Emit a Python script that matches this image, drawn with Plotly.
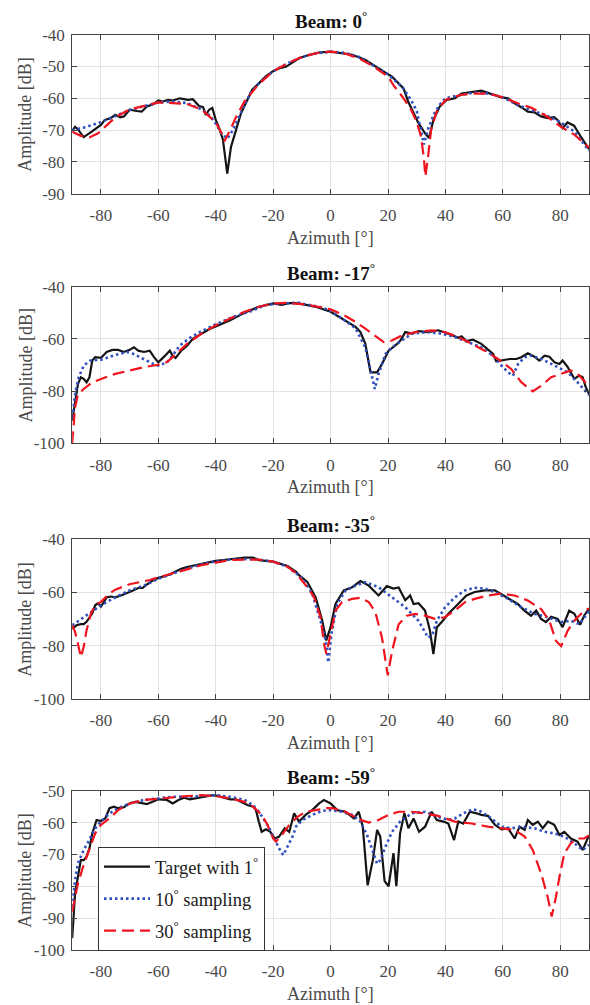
import plotly.graph_objects as go

# ---------------- data ----------------
x_tickvals = [-80, -60, -40, -20, 0, 20, 40, 60, 80]
x_ticktext = ["-80", "-60", "-40", "-20", "0", "20", "40", "60", "80"]

beam_titles = ["Beam: 0<sup>°</sup>", "Beam: -17<sup>°</sup>", "Beam: -35<sup>°</sup>", "Beam: -59<sup>°</sup>"]
series_names = ["Target with 1<sup>°</sup>", "10<sup>°</sup> sampling", "30<sup>°</sup> sampling"]

y_ranges = [[-90, -40], [-100, -40], [-100, -40], [-100, -50]]
y_tickvals = [[-90, -80, -70, -60, -50, -40], [-100, -80, -60, -40], [-100, -80, -60, -40], [-100, -90, -80, -70, -60, -50]]
y_ticktext = [["-90", "-80", "-70", "-60", "-50", "-40"], ["-100", "-80", "-60", "-40"],
              ["-100", "-80", "-60", "-40"], ["-100", "-90", "-80", "-70", "-60", "-50"]]

# Beam 0
b0_tgt_x = [-90, -89, -88, -86, -83.7, -81.4, -80, -78.6, -76.7, -75, -73.3, -72, -70, -67.5, -65.8, -64, -61.8, -60,
            -58.4, -56.6, -55, -52.5, -51, -49.6, -48, -46.7, -45.8, -44.4, -43.5, -42.3, -41.2, -40, -38.8, -37.5, -36,
            -34.7, -32.9, -31.2, -29.5, -27.3, -25, -22.5, -20.3, -18, -15.6, -13.3, -11, -8.7, -4, 0, 2.9, 7.5, 12,
            15.6, 19, 21.4, 23.7, 25.4, 27, 28.9, 30.6, 32.9, 34.3, 35.8, 38, 40.4, 43.3, 45.6, 49, 52.5, 54.8, 57.2,
            59.5, 61.8, 64.1, 66.4, 68.7, 71, 73.3, 75.6, 77.9, 79, 80.8, 82.5, 84.8, 87.1, 89.4, 90]
b0_tgt_y = [-70.2, -69, -69.8, -72.2, -70.8, -69.4, -68.4, -66.8, -66.3, -65.2, -66, -65.7, -63.6, -64, -64.2, -62.6,
            -61.9, -60.7, -61, -60.5, -60.7, -60, -60.3, -60.5, -60.3, -61.6, -62.4, -62.8, -65.2, -63.6, -63, -66.8,
            -69.4, -73, -83.7, -75.3, -70, -64.7, -61.5, -57.3, -55.3, -53, -51.6, -50.6, -50.1, -48.8, -47.4, -46.7,
            -45.6, -45.3, -45.6, -46.3, -47.9, -50.1, -51.9, -53.2, -55.5, -56.9, -61, -64.7, -67.8, -71, -72.5, -66.8,
            -62.6, -60.5, -60, -58.5, -58, -57.6, -58.3, -59, -59.7, -60, -61.6, -62.8, -64.2, -64.4, -65.7, -66.2,
            -65.9, -66.8, -69.4, -67.6, -68.6, -72, -75.1, -76]
b0_s10_x = [-90, -85, -80, -75, -70, -65, -60, -55, -50, -45, -42, -40, -38, -36, -34, -32, -30, -28, -25, -20, -15,
            -10, -5, 0, 5, 10, 15, 20, 25, 28, 30, 31.5, 32.5, 34, 36, 38, 40, 45, 50, 55, 60, 65, 70, 75, 80, 85, 90]
b0_s10_y = [-70, -69, -67.5, -65.5, -63.7, -62.5, -61.3, -61, -61.5, -63.5, -65.5, -68, -71, -72.7, -70, -66, -62,
            -58.5, -55.3, -51.5, -49, -47, -45.8, -45.4, -45.7, -47, -49.8, -52.5, -56.5, -60.5, -64, -70, -74.5,
            -69.5, -65, -62, -60, -59, -58.2, -58.5, -59.7, -62, -63.8, -65.3, -67.5, -70.5, -76.5]
b0_s30_x = [-90, -87, -84, -81, -78, -75, -70, -65, -60, -55, -50, -45, -40, -38, -37, -35, -33, -30, -25, -20, -15,
            -10, -5, 0, 5, 10, 15, 20, 22, 25, 28, 30, 31.5, 32.5, 33, 34, 35, 37, 40, 45, 50, 55, 60, 65, 70, 75, 80,
            85, 90]
b0_s30_y = [-70.5, -71.8, -72.3, -71, -68.5, -66, -63.5, -62.5, -61.3, -61.5, -61.8, -63.5, -67.5, -71, -73.5, -70,
            -66, -61, -55.5, -51.5, -49, -47, -45.8, -45.3, -45.9, -47.5, -50, -53.2, -56, -59.5, -63.5, -67.5, -72,
            -79, -84.6, -78, -70, -64, -60.5, -59, -58.5, -58.5, -59.7, -61.5, -63, -65.5, -68.8, -71.5, -75.5]

# Beam -17
b17_tgt_x = [-90, -89, -88, -87, -86, -85, -84, -83, -82, -80, -78, -76, -74, -72, -70, -68.5, -67, -65, -63, -61.5,
             -60, -58, -56, -55, -54, -52, -50, -48, -46, -44, -42, -40, -35, -30, -25, -20, -17, -15, -13, -9.8, -5.2,
             0, 4, 8.7, 10.4, 12.1, 13.9, 16.2, 17.9, 20.2, 22.5, 24.3, 26, 28.3, 30.6, 34, 37.5, 41, 44.5, 45.6, 47.3,
             49.6, 52.5, 54.8, 56.6, 57.7, 60, 62.4, 64.7, 66.4, 68.7, 71, 72.7, 74.5, 76.2, 78, 79.7, 80.8, 82.6, 84.9,
             86.6, 87.8, 88.9, 90]
b17_tgt_y = [-91.4, -83.7, -77.3, -74.7, -75.3, -76.6, -74.7, -68.3, -67, -67.3, -65, -64.2, -64.2, -65, -64.2, -63.2,
             -64.5, -65, -64.5, -67, -69, -66.8, -64.5, -66.5, -67.3, -64.5, -62.6, -60, -58.7, -57.4, -56.1, -55.2,
             -52.9, -50, -47.7, -46.4, -47, -46.4, -46.2, -46.7, -47.7, -49.6, -52.2, -55.4, -57.4, -61.9, -72.8, -72.8,
             -69.6, -64.5, -62.6, -60.6, -57.4, -58, -57, -57.4, -56.7, -58, -59.6, -59, -60.8, -60.3, -61.9, -63.9,
             -65.8, -68.6, -68.3, -67.7, -67.7, -67, -65.5, -66.8, -68.3, -66.4, -66.8, -69, -69.6, -68.3, -70.8,
             -75.3, -74, -74.7, -78.6, -81]
b17_s10_x = [-90, -88.8, -87.7, -86, -83.7, -80, -75.7, -71, -68.8, -65.2, -61.7, -60, -57, -54.8, -52.5, -49, -45.6,
             -40, -34, -28.3, -22.5, -16.8, -11, -2.9, 0, 4, 8.7, 12.1, 13.9, 15.4, 16.7, 19.1, 21.4, 24.8, 28.3, 34,
             38.7, 43.3, 47.9, 52.5, 57.2, 59.5, 61.8, 63.5, 65.3, 67.6, 69.9, 73.4, 78, 82.6, 86, 90]
b17_s10_y = [-90, -79.9, -74.7, -70.2, -68.3, -68, -66.4, -65, -65.7, -67.7, -69.6, -70.2, -69, -66, -62.5, -59.6,
             -57.4, -54.4, -51.6, -49.6, -47, -46.4, -46.2, -48, -49.3, -52.2, -56, -63.2, -72.2, -79.2, -73.4, -65.8,
             -63.2, -60.6, -58, -57.4, -58, -59.3, -61.2, -63.2, -67, -70.2, -72.8, -74.1, -69.6, -67, -66.4, -67.7,
             -70.2, -72.8, -76.6, -81.5]
b17_s30_x = [-90, -89.5, -89, -88, -86, -83, -80, -75, -70, -65, -60, -57, -55, -52, -50, -45, -40, -35, -30, -25,
             -20, -15, -8.7, -2.9, 0, 4.6, 8.7, 12.1, 15.6, 18.5, 21.4, 24.8, 29.4, 35.2, 39.8, 44.5, 49.1, 53.7, 58.3,
             62.9, 66.4, 70.4, 73.4, 76.8, 80.3, 83.7, 86, 88.3, 90]
b17_s30_y = [-100, -92.7, -86.3, -81.2, -79.2, -76.6, -75.3, -73.4, -72.1, -70.8, -69.9, -68.9, -67, -63.8, -61.9,
             -58, -54.8, -52.2, -49.6, -47.7, -46.4, -46.2, -46.8, -48, -48.7, -50.9, -53.5, -56.1, -58.7, -61.2,
             -60.6, -58.7, -57.4, -56.7, -57.4, -59.3, -61.9, -64.5, -67.7, -71.5, -76.6, -80.1, -77.9, -74.7, -73.4,
             -72.1, -73.4, -76, -79]

# Beam -35
b35_tgt_x = [-90, -88.5, -87, -86, -85, -83, -82, -81, -80, -78, -76.5, -75, -73, -71, -69, -67, -65.5, -64.5, -62,
             -60, -57, -55, -52, -50, -45, -40, -35, -30, -27, -25, -20, -15, -12, -11, -8.1, -5.2, -2.9, -1.5, 0, 1.7,
             4.6, 7.5, 10.4, 13.3, 16.7, 19.6, 21.9, 23.7, 26, 27.7, 28.9, 30.6, 32.9, 34.6, 35.8, 37, 38.7, 41, 43.3,
             45.6, 47.3, 50.2, 53.7, 57.2, 60, 62.9, 65.2, 67.5, 69.8, 71.6, 73.3, 75, 76.8, 79.1, 80.8, 83.1, 84.9,
             86.9, 88.3, 90]
b35_tgt_y = [-73.6, -72.3, -71.9, -71.9, -71, -67.8, -64.8, -64, -65.3, -61.8, -61.5, -61.8, -61.1, -60.3, -59.3,
             -58.3, -58.3, -57.4, -55.5, -54.5, -53.6, -52.7, -51.1, -50.4, -49.2, -48.1, -47.5, -46.9, -46.9, -47.8,
             -48.4, -50, -52.2, -53.5, -56, -61.8, -70.6, -78, -73, -64.3, -59.2, -58, -55.7, -57.4, -61.1, -57.6,
             -58.5, -58.1, -62.9, -61.1, -64.3, -64, -66.8, -74.3, -83.1, -73, -71.1, -68, -65.5, -63, -61.1, -59.8,
             -59.2, -59.2, -61.1, -63, -64.3, -66.8, -68.7, -66.8, -69.9, -71.1, -69.1, -69.9, -73, -66.8, -68,
             -72.1, -68.7, -66]
b35_s10_x = [-90, -85, -80, -75, -70, -65, -60, -55, -50, -45, -40, -35, -30, -25, -20, -15, -12, -9.8, -6.4, -3.5,
             -1.7, -0.8, 0.3, 2.3, 5.2, 8.7, 12.1, 16.7, 21.4, 26, 30.6, 34, 35.5, 37, 39.9, 43.3, 46.8, 50.2, 53.7,
             57.2, 61.8, 66.4, 71, 75.6, 80.3, 83.7, 86.6, 90]
b35_s10_y = [-72.3, -68.6, -64.8, -61.8, -59.2, -57.4, -54.8, -52.9, -51, -49.4, -48.3, -47.6, -47.4, -47.6, -48.4,
             -50.3, -52.8, -54.7, -60.4, -70.6, -78, -86.3, -75.5, -64.3, -59.2, -57.4, -56.1, -58, -61.8, -65.5,
             -70.6, -77, -75.7, -70.6, -65.5, -61.8, -59.2, -58.2, -58.5, -59.8, -62.4, -65.5, -68, -69.3, -71.1,
             -70.6, -71.9, -67]
b35_s30_x = [-90, -89, -88, -87, -86, -85, -83.5, -82, -80, -77, -75, -72, -70, -66, -63, -60, -55, -50, -45, -40,
             -35, -30, -25, -20, -15, -12, -8.7, -5.8, -3.5, -2.3, -1.5, 0, 1.7, 4, 7.5, 10.4, 13.3, 15.6, 17.9, 19.9,
             21.4, 23.7, 26.6, 29.4, 32.9, 36.3, 39.8, 43.3, 46.8, 50.2, 54.8, 59.5, 64.1, 68.7, 73.3, 76.2, 78.5,
             80.3, 82.6, 84.9, 88.3, 90]
b35_s30_y = [-72.3, -74.8, -79.2, -84.3, -80.5, -74.2, -67.9, -64.8, -63.5, -60.4, -58.9, -57.6, -56.9, -56, -55.3,
             -54.3, -52.9, -51.3, -49.7, -48.7, -47.8, -47.6, -47.6, -48.4, -50.3, -52.8, -57.2, -61.6, -69.3, -79.3,
             -83, -75.5, -66.8, -63.6, -62.4, -62, -63.6, -67.4, -77, -91.1, -82.1, -71.9, -68.7, -68, -68.7, -69.9,
             -69.3, -66.8, -63.6, -62.4, -61.1, -60.4, -61.1, -63, -66.2, -70.6, -78.2, -80.1, -74.3, -70.6, -66.8,
             -66]

# Beam -59
b59_tgt_x = [-90, -89.5, -89, -88, -87, -86, -85, -84, -83, -81.5, -80, -78.5, -77, -75.5, -74, -72, -70, -68, -66,
             -64, -62, -60, -57, -55, -53, -51, -49, -47, -45, -43, -41, -39, -37, -35, -33, -31, -29, -27, -26, -25,
             -24, -22.5, -21, -19.5, -18, -16, -14.4, -12.7, -11, -8.7, -6.4, -4, -2.3, 0, 2.3, 5.2, 8.1, 9.8, 11.2,
             12.9, 14.7, 16.2, 17.3, 18.8, 20.2, 21.9, 22.9, 24.2, 25.7, 27.1, 28.9, 30.8, 32.9, 35.2, 37, 39.3, 41,
             43, 44.5, 46.2, 48.5, 50.8, 52.5, 54.8, 57.2, 59.5, 61.8, 64.1, 65.8, 67.6, 68.7, 70.4, 72.2, 73.9, 75.7,
             77.9, 79.7, 81.4, 83.7, 86, 87.8, 90]
b59_tgt_y = [-96.3, -89.5, -82.2, -77, -71.8, -71.8, -70.7, -68.1, -63.4, -59.2, -59.5, -58.7, -55.5, -55, -55.5,
             -55.2, -54, -53.5, -53.8, -54.2, -53.5, -52.7, -52.9, -54, -52.9, -52.2, -52.7, -52.4, -52.1, -51.9,
             -51.4, -51.7, -52.2, -52.7, -52.7, -53.5, -54.5, -55, -56.1, -59.7, -62.9, -62.1, -62.9, -65, -64.5,
             -61.8, -62.9, -57.1, -59.7, -57.6, -56.1, -54, -52.9, -54, -56.1, -56.6, -58.7, -56.6, -61.3, -79.7,
             -71.8, -62.3, -64.4, -78.4, -80, -69.6, -80, -63.4, -57.1, -61.8, -58.7, -62.9, -61.3, -56.6, -59.2,
             -59.7, -60.3, -65.5, -59.7, -60.3, -56.6, -57.1, -57.6, -57.9, -60.7, -62.1, -61.8, -65, -61.3, -62.3,
             -59.2, -60.7, -59.7, -61.8, -59.7, -60.7, -63.9, -62.9, -65, -66, -68.6, -64]
b59_s10_x = [-90, -89, -88, -86, -84, -82, -80, -77, -74, -70, -65, -60, -55, -50, -45, -40, -35, -30, -27, -25, -22,
             -20, -18, -16.5, -15, -13, -12.1, -9.8, -6.4, -2.9, 0, 4, 7.5, 10.4, 12.7, 15, 16.2, 17.3, 19.1, 21.4,
             24.2, 28.3, 32.9, 37.5, 41, 43.3, 46.2, 49.6, 52.5, 56, 59.5, 63, 66.4, 71, 74.5, 77.9, 81.4, 84.9, 87.8,
             90]
b59_s10_y = [-86.4, -78, -72.8, -68.6, -65.4, -61.8, -59.7, -57.1, -55.5, -54, -52.9, -52.4, -51.9, -51.9, -51.7,
             -51.4, -51.9, -52.9, -54.5, -56.6, -60.7, -64.4, -68, -70.2, -67.6, -63.9, -61.3, -59.2, -57.6, -56.3,
             -56.1, -56.6, -57.6, -59.7, -63.9, -69.7, -72.9, -71.8, -67.6, -62.9, -59.7, -57.1, -56.6, -58.2, -59.2,
             -58.7, -57.1, -55.8, -56.6, -58.7, -61.3, -61.8, -61.3, -61.8, -62.9, -63.4, -64.4, -66.5, -68.6, -67]
b59_s30_x = [-90, -89, -88, -86, -84, -82, -80, -77, -74, -70, -65, -60, -55, -50, -45, -40, -35, -30, -27, -24, -22,
             -20, -19, -17, -14.4, -11.5, -8.7, -5.2, -1.7, 0.6, 5.2, 9.8, 13.3, 16.7, 20.2, 23.7, 28.3, 32.9, 37.5,
             43.3, 49.1, 54.8, 59.5, 64.1, 67.6, 70.4, 73.3, 75.6, 77, 78.5, 79.7, 81.4, 83.7, 86, 88.3, 90]
b59_s30_y = [-88, -83.3, -79.1, -73.3, -68.6, -63.4, -60.7, -58.7, -56.1, -54, -52.9, -52.4, -52.1, -51.7, -51.4,
             -51.7, -52.4, -53.5, -55, -57.6, -60.7, -65, -66, -63.9, -60.7, -58.2, -56.6, -56.1, -55.5, -55.5, -56.6,
             -59, -60, -59.2, -57.6, -56.6, -56.6, -57.1, -57.9, -59.7, -60.3, -61.3, -61.8, -62.3, -64.4, -68.6,
             -75.9, -83.3, -89.5, -83.3, -77, -69.7, -66.5, -65, -65, -64]

# ---------------- layout helpers ----------------
W, H = 590, 1005
FONT = "Liberation Serif, Times New Roman, Times, serif"
AXC = "#444444"
TXC = "#4a4a4a"
X0, X1 = 72.2, 589.0
panel_px = [(34.7, 193.7), (286.7, 443.3), (539.3, 699.0), (790.7, 950.0)]

panels = [
    [(b0_tgt_x, b0_tgt_y), (b0_s10_x, b0_s10_y), (b0_s30_x, b0_s30_y)],
    [(b17_tgt_x, b17_tgt_y), (b17_s10_x, b17_s10_y), (b17_s30_x, b17_s30_y)],
    [(b35_tgt_x, b35_tgt_y), (b35_s10_x, b35_s10_y), (b35_s30_x, b35_s30_y)],
    [(b59_tgt_x, b59_tgt_y), (b59_s10_x, b59_s10_y), (b59_s30_x, b59_s30_y)],
]
styles = [
    dict(color="#141414", width=2.2),
    dict(color="#2f4fbf", width=2.6, dash="2.5px,3px"),
    dict(color="#f0141e", width=2.2, dash="12px,6px"),
]

fig = go.Figure()
layout = dict(width=W, height=H, margin=dict(l=0, r=0, t=0, b=0, pad=0), autosize=False,
              paper_bgcolor="white", plot_bgcolor="white", annotations=[])

def py(p):
    return 1 - p / H

for i, (series, (top, bot)) in enumerate(zip(panels, panel_px)):
    n = "" if i == 0 else str(i + 1)
    for j, (xs, ys) in enumerate(series):
        fig.add_trace(go.Scatter(
            x=xs, y=ys, mode="lines", line=styles[j], name=series_names[j],
            legendgroup="g%d" % j, showlegend=(i == 3),
            xaxis="x" + n, yaxis="y" + n, hoverinfo="skip"))
    common = dict(showgrid=True, gridcolor="#e3e3e3", gridwidth=1, showline=True, automargin=False,
                  linecolor=AXC, linewidth=1, mirror="ticks", ticks="inside", ticklen=5,
                  tickcolor=AXC, tickfont=dict(family=FONT, size=17, color=TXC), zeroline=False)
    layout["xaxis" + n] = dict(common, domain=[X0 / W, X1 / W], range=[-90, 90], anchor="y" + n,
                               tickmode="array", tickvals=x_tickvals, ticktext=x_ticktext,
                               ticklabelstandoff=6)
    layout["yaxis" + n] = dict(common, domain=[py(bot), py(top)], range=y_ranges[i], anchor="x" + n,
                               tickmode="array", tickvals=y_tickvals[i], ticktext=y_ticktext[i],
                               ticklabelstandoff=3)
    xc = (X0 + X1) / 2 / W
    layout["annotations"] += [
        dict(text="<b>" + beam_titles[i] + "</b>", x=xc, y=py(top), xref="paper", yref="paper",
             xanchor="center", yanchor="bottom", yshift=1, showarrow=False,
             font=dict(family=FONT, size=19, color="#111111")),
        dict(text="Azimuth [°]", x=xc, y=py(bot + 44), xref="paper", yref="paper",
             xanchor="center", yanchor="middle", showarrow=False,
             font=dict(family=FONT, size=18, color=TXC)),
        dict(text="Amplitude [dB]", x=25.5 / W, y=py((top + bot) / 2), xref="paper", yref="paper",
             xanchor="center", yanchor="middle", textangle=-90, showarrow=False,
             font=dict(family=FONT, size=18, color=TXC)),
    ]

layout["legend"] = dict(x=98 / W, y=py(847), xanchor="left", yanchor="top",
                        bgcolor="white", bordercolor="#333333", borderwidth=1,
                        font=dict(family=FONT, size=18.5, color="#1a1a1a"),
                        itemwidth=46, tracegroupgap=5, traceorder="grouped")
fig.update_layout(**layout)
fig.write_html("out.html", config={"displayModeBar": False},
               post_script="document.body.style.margin='0';document.body.style.padding='0';"
                           "document.body.style.overflow='hidden';"
                           "document.documentElement.style.overflow='hidden';")
